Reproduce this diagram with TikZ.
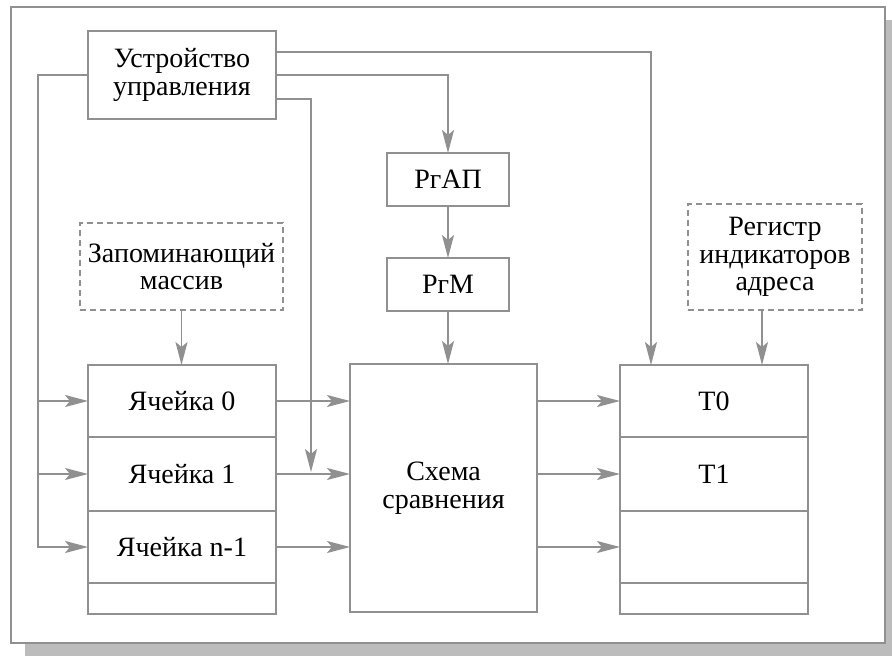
\documentclass[tikz,border=0pt]{standalone}
\usepackage{fontspec}
\setmainfont{Liberation Serif}
\newfontfamily\labelfont{Liberation Serif}
\usetikzlibrary{positioning, arrows.meta}
\definecolor{linegray}{RGB}{144,144,144}
\definecolor{shadowgray}{RGB}{188,188,188}

\begin{document}
\begin{tikzpicture}[x=1pt, y=-1pt, line width=1.8pt]
    \tikzstyle{block}=[
        draw = linegray,
        rectangle,
        inner sep = 0pt,
        outer sep = 0pt,
        align = center,
        font = \labelfont\fontsize{28}{27.5}\selectfont
    ]
    \tikzstyle{dblock}=[block, dash pattern=on 6pt off 4pt]
    \tikzstyle{arr}=[color=linegray, -{Stealth[length=23pt, width=12pt, inset=5pt]}]

    \useasboundingbox (0,0) rectangle (892,656);
    \fill[shadowgray] (25,20) rectangle (892,656);
    \draw[linegray, fill=white] (11,7) rectangle (885,643);

    \node (uu) [block, minimum width=188pt, minimum height=88pt] at (182,75) {Устройство\\управления};
    \node (zm) [dblock, minimum width=203pt, minimum height=87pt] at (181.5,266.5) {Запоминающий\\массив};
    \node (rgap) [block, minimum width=122pt, minimum height=53pt] at (448,179.5) {РгАП};
    \node (rgm) [block, minimum width=122pt, minimum height=53pt, below=52pt of rgap] {РгМ};
    \node (ria) [dblock, minimum width=174pt, minimum height=106pt] at (775,257) {Регистр\\индикаторов\\адреса};
    \node (sch) [block, minimum width=187pt, minimum height=248pt] at (443.5,488) {Схема\\сравнения};

    \begin{scope}[every node/.style={block, minimum width=188pt, minimum height=72pt}]
      \node (c0) at (182,401) {Ячейка 0};
      \node (c1) [below=0pt of c0, minimum height=74pt] {Ячейка 1};
      \node (cn) [below=0pt of c1] {Ячейка n-1};
      \node (ce) [below=0pt of cn, minimum height=31pt] {};

      \node (t0) at (714,401) {T0};
      \node (t1) [below=0pt of t0, minimum height=74pt] {T1};
      \node (tn) [below=0pt of t1] {};
      \node (te) [below=0pt of tn, minimum height=31pt] {};
    \end{scope}

    \coordinate (bus) at (38,0);
    \coordinate (mid) at (311,472);

    \draw[arr] ([yshift=23pt]uu.east) -| ([xshift=-63pt]t0.north);
    \draw[arr] (uu.east) -| (rgap.north);
    \draw[arr] ([yshift=-24pt]uu.east) -| (mid);
    \draw[arr] (uu.west) -- (uu.west -| bus) |- (cn.west);

    \path[arr] (bus |- c0.west) edge (c0.west)
               (bus |- c1.west) edge (c1.west)
               (zm.south) edge (zm.south |- c0.north)
               ([xshift=-13pt]ria.south) edge ([xshift=48pt]t0.north)
               (rgap.south) edge (rgm.north)
               (rgm.south) edge (rgm.south |- sch.north)
               (c0.east) edge (c0.east -| sch.west)
               (c1.east) edge (c1.east -| sch.west)
               (cn.east) edge (cn.east -| sch.west)
               (sch.east |- t0.west) edge (t0.west)
               (sch.east |- t1.west) edge (t1.west)
               (sch.east |- tn.west) edge (tn.west);
\end{tikzpicture}
\end{document}
